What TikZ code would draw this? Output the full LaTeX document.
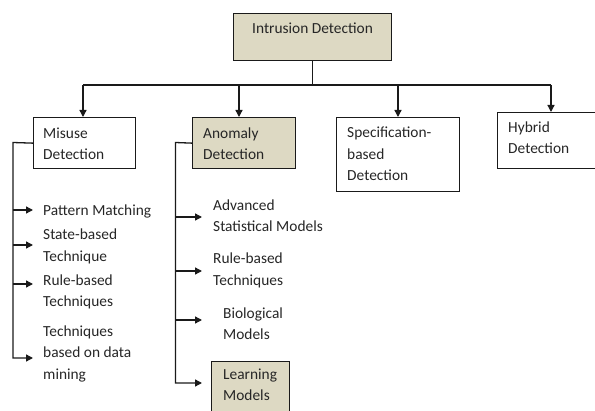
\documentclass[tikz,border=0pt]{standalone}
\usepackage{fontspec}
\setmainfont{Carlito}
\usetikzlibrary{arrows.meta}
\definecolor{tanfill}{HTML}{DDD9C3}
\definecolor{inkc}{HTML}{1A1A1A}
\definecolor{txtc}{HTML}{262626}
\begin{document}
\begin{tikzpicture}[x=1pt,y=-1pt,
  box/.style={draw=inkc,line width=1.3pt,inner sep=0pt,anchor=north west},
  tanbox/.style={box,fill=tanfill},
  txt/.style={inner sep=0pt,anchor=base west,align=left,text=txtc,
    font=\fontsize{15.4}{21.5}\selectfont},
  ln/.style={draw=inkc,line width=1.3pt},
  arr/.style={ln,-{Triangle[length=7pt,width=7pt]}}]
\useasboundingbox (0,0) rectangle (595,411);
\clip (0,0) rectangle (595,411);
% boxes
\node[tanbox,minimum width=158pt,minimum height=47pt] (int) at (233,13) {};
\node[box,minimum width=102pt,minimum height=51pt] (mis) at (33,117) {};
\node[tanbox,minimum width=103pt,minimum height=51pt] (ano) at (192,117) {};
\node[box,minimum width=123pt,minimum height=74pt] (spec) at (336,117) {};
\node[box,minimum width=110pt,minimum height=56pt] (hyb) at (497,112) {};
\node[tanbox,minimum width=78pt,minimum height=60pt] (lrn) at (211,361) {};
% box texts (anchor = baseline of last line)
\node[txt] (tint) at (252,33.5) {Intrusion Detection};
\node[txt] (tmis) at (43,160) {Misuse\\Detection};
\node[txt] (tano) at (203,160) {Anomaly\\Detection};
\node[txt] (tspec) at (347,181) {Specification-\\based\\Detection};
\node[txt] (thyb) at (508,154) {Hybrid\\Detection};
\node[txt] (tlrn) at (223,401) {Learning\\Models};
% leaf texts
\node[txt] (pm) at (43,215.7) {Pattern Matching};
\node[txt] (sb) at (43,261.5) {State-based\\Technique};
\node[txt] (rb) at (43,307) {Rule-based\\Techniques};
\node[txt] (dm) at (43,379.5) {Techniques\\based on data\\mining};
\node[txt] (asm) at (213,232) {Advanced\\Statistical Models};
\node[txt] (rb2) at (213,285.5) {Rule-based\\Techniques};
\node[txt] (bio) at (223,340) {Biological\\Models};
% top tree
\coordinate (bL) at (83,85);
\coordinate (bA) at (239,85);
\coordinate (bS) at (398,85);
\coordinate (bR) at (551,85);
\draw[ln] (int.south) -- (int.south |- bL);
\draw[ln] (bL) -- (bR);
\draw[arr] (bL) -- (bL |- mis.north);
\draw[arr] (bA) -- (bA |- ano.north);
\draw[arr] (bS) -- (bS |- spec.north);
\draw[arr] (bR) -- (bR |- hyb.north);
% misuse leaves
\coordinate (mtop) at (13,142.5);
\coordinate (m1) at (33,210);
\coordinate (m2) at (33,245);
\coordinate (m3) at (33,284);
\coordinate (m4) at (33,358);
\draw[arr] (mis.west) -- (mtop) -- (mtop |- m4) -- (m4);
\draw[arr] (mtop |- m1) -- (m1);
\draw[arr] (mtop |- m2) -- (m2);
\draw[arr] (mtop |- m3) -- (m3);
% anomaly leaves
\coordinate (atop) at (175.5,142.5);
\coordinate (a1) at (202,217);
\coordinate (a2) at (202,271);
\coordinate (a3) at (202,320);
\coordinate (a4) at (202,383);
\draw[arr] (ano.west) -- (atop) -- (atop |- a4) -- (a4);
\draw[arr] (atop |- a1) -- (a1);
\draw[arr] (atop |- a2) -- (a2);
\draw[arr] (atop |- a3) -- (a3);
\end{tikzpicture}
\end{document}
